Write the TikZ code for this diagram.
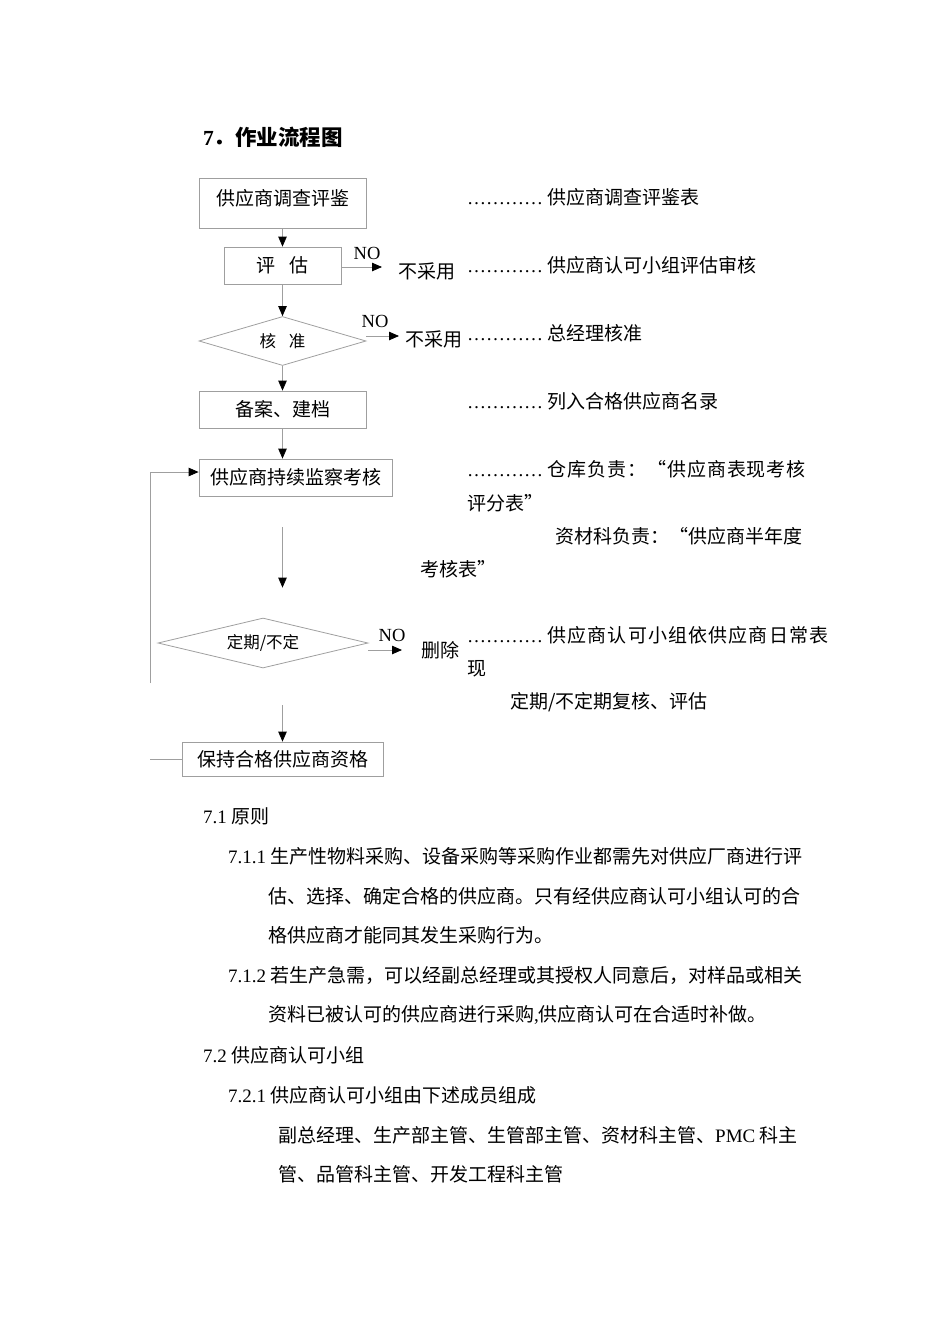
\documentclass[tikz,border=0pt]{standalone}
\usepackage{fontspec}
\setmainfont{Noto Sans CJK SC}
\newfontfamily\lat{Liberation Serif}
\usetikzlibrary{arrows.meta,shapes.geometric}

\begin{document}
\begin{tikzpicture}[x=1pt,y=-1pt,>={Triangle[length=10pt,width=8.5pt,color=black]},
  ln/.style={draw=gray!75,line width=0.8pt},
  box/.style={draw=gray!75,line width=0.8pt,minimum height=37pt,inner sep=0pt,font=\fontsize{19}{19}\selectfont},
  dia/.style={draw=gray!75,line width=0.8pt,diamond,inner sep=0pt,minimum height=49pt,font=\fontsize{16.5}{16.5}\selectfont},
  txt/.style={anchor=west,inner sep=0pt,font=\fontsize{19}{19}\selectfont},
  no/.style={inner sep=0pt,font=\lat\fontsize{18.5}{18.5}\selectfont}]
\useasboundingbox (0,0) rectangle (950,1344);
\node[anchor=west,inner sep=0pt,font=\fontsize{21.5}{21.5}\selectfont\bfseries] (title) at (203,137) {{\lat\bfseries 7}．作业流程图};

% flow chart
\node[box,minimum width=167pt,minimum height=50pt,text depth=11pt] (svy) at (282.5,203) {供应商调查评鉴};
\node[box,minimum width=117pt] (eval) at (282.5,265.5) {评\hspace{15pt}估};
\node[dia,shape aspect=3.4,minimum width=167pt] (appr) at (282.5,341) {核\hspace{13pt}准};
\node[dia,shape aspect=4.2,minimum width=210pt,minimum height=50pt] (per) at (263,643) {定期/不定};
\node[box,minimum width=167pt] (file) at (282.5,409.5) {备案、建档};
\node[box,minimum width=193pt] (mon) at (295.5,477.5) {供应商持续监察考核};
\node[box,minimum width=201pt,minimum height=34pt] (keep) at (282.5,759) {保持合格供应商资格};

\draw[ln,->] (svy) -- (eval);
\draw[ln,->] (eval) -- (appr);
\draw[ln,->] (appr) -- (file);
\draw[ln,->] (file) -- (file.south |- mon.north);
\draw[ln,->,shorten <=31pt,shorten >=30pt] (mon.south -| file) -- (per.north -| file);
\draw[ln,->,shorten <=37pt] (per.south -| file) -- (keep);

% rejections
\coordinate (no1) at (382,267);
\coordinate (no2) at (399,336);
\coordinate (no3) at (402,650);
\draw[ln,->] ([yshift=-1.5pt]eval.east) -- (no1);
\draw[ln,->] ([yshift=5pt]appr.east) -- (no2);
\draw[ln,->] ([yshift=-7pt]per.east) -- (no3);
\node[no] (n1) at (367,253) {NO};
\node[no] (n2) at (375,321) {NO};
\node[no] (n3) at (392,635) {NO};
\node[txt] (rej1) at (398,271) {不采用};
\node[txt] (rej2) at (405,339) {不采用};
\node[txt] (del) at (421,650) {删除};

% feedback loop
\coordinate (fb0) at (150,683);
\coordinate (fb1) at (150,472);
\coordinate (fb2) at (150,759);
\draw[ln,->] (fb0) -- (fb1) -- (mon.west |- fb1);
\draw[ln] (fb2) -- (keep.west);

% notes
\foreach \y/\t in {197/供应商调查评鉴表,265/供应商认可小组评估审核,333/总经理核准,
  401/列入合格供应商名录,469/{{\addfontfeature{LetterSpace=5}仓库负责：“供应商表现考核}},
  635/{{\addfontfeature{LetterSpace=6}供应商认可小组依供应商日常表}}}
  \node[txt] (d\y) at (467,\y) {{\lat …………} \t};
\node[txt] (d503) at (467,503) {评分表”};
\node[txt] (d536) at (555,536) {资材科负责：“供应商半年度};
\node[txt] (d569) at (420,569) {考核表”};
\node[txt] (d669) at (467,669) {现};
\node[txt] (d702) at (510,702) {定期/不定期复核、评估};

% text below
\node[txt] (p71) at (203,816) {{\lat 7.1} 原则};
\node[txt] (p711) at (228,856) {{\lat 7.1.1} 生产性物料采购、设备采购等采购作业都需先对供应厂商进行评};
\node[txt] (p711b) at (268,896) {估、选择、确定合格的供应商。只有经供应商认可小组认可的合};
\node[txt] (p711c) at (268,935) {格供应商才能同其发生采购行为。};
\node[txt] (p712) at (228,975) {{\lat 7.1.2} 若生产急需，可以经副总经理或其授权人同意后，对样品或相关};
\node[txt] (p712b) at (268,1015) {资料已被认可的供应商进行采购{\lat ,}供应商认可在合适时补做。};
\node[txt] (p72) at (203,1055) {{\lat 7.2} 供应商认可小组};
\node[txt] (p721) at (228,1095) {{\lat 7.2.1} 供应商认可小组由下述成员组成};
\node[txt] (p721b) at (278,1135) {副总经理、生产部主管、生管部主管、资材科主管、{\lat PMC} 科主};
\node[txt] (p721c) at (278,1174) {管、品管科主管、开发工程科主管};
\end{tikzpicture}
\end{document}
